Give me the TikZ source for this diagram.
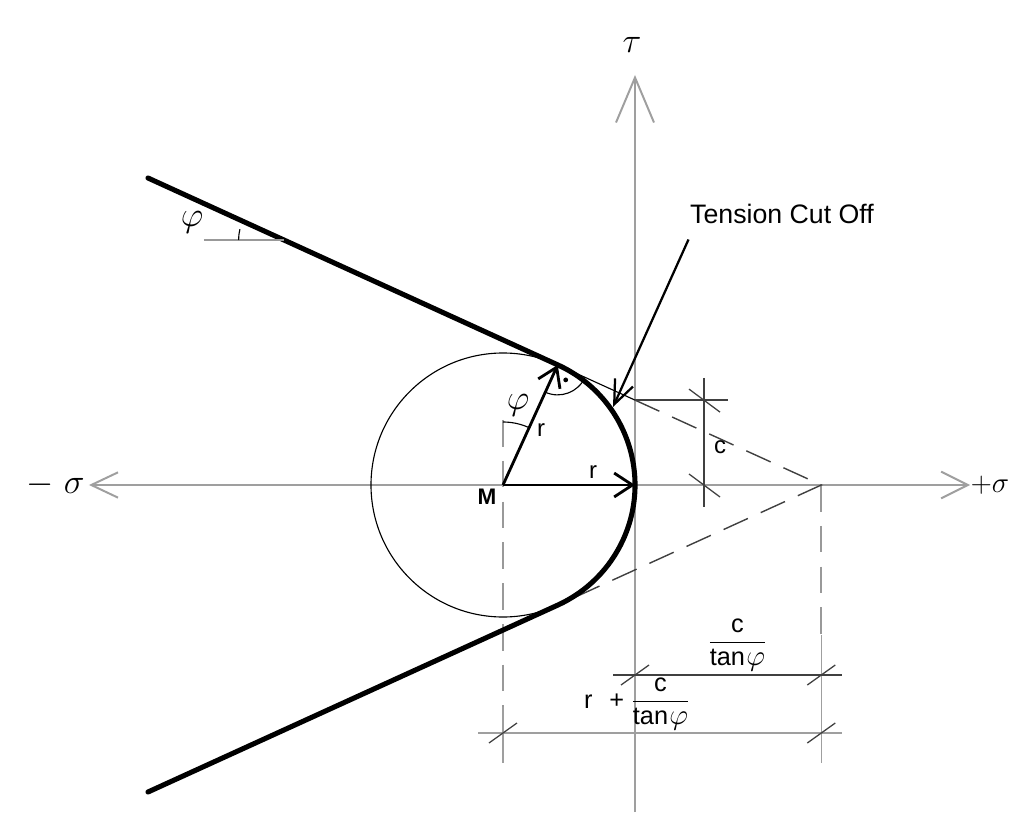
\documentclass[tikz,border=0pt]{standalone}
\usepackage{amsmath}
\usepackage{fontspec}
\setmainfont{Liberation Sans}
\usepackage{tikz}
\usetikzlibrary{arrows.meta, calc, positioning}

\def\phideg{24.5}

\begin{document}
\begin{tikzpicture}[x=0.25mm, y=0.25mm,
          axis/.style={gray!75, line width=1.4pt},
          env/.style={line width=3.6pt, line join=round, line cap=round},
          rad/.style={line width=2pt,
                      -{Straight Barb[length=13pt, width=17pt, line width=2pt]}},
          dim/.style={line width=0.9pt, black!75},
          dimg/.style={line width=1.1pt, gray!75},
          aux/.style={line width=1pt, dash pattern=on 19pt off 10pt},
          thin/.style={line width=0.8pt},
          lab/.style={font=\fontsize{17}{20}\selectfont, inner sep=1pt},
          fr/.style={font=\fontsize{18}{22}\selectfont, inner sep=0pt, anchor=base},
          greek/.style={font=\fontsize{23}{27}\selectfont, inner sep=1pt}
        ]
        \useasboundingbox (-503,-327) rectangle (513,485);

        % Key points
        \coordinate (M) at (0,0);
        \coordinate (R) at (132,0);
        \coordinate (T1) at (90-\phideg:132);
        \coordinate (T2) at (\phideg-90:132);
        \coordinate (A) at (318.3,0);
        \coordinate (P) at (132,84.9);
        \coordinate (L1) at (-355,307);
        \coordinate (L2) at (-355,-307);
        \coordinate (sL) at (-414,0);
        \coordinate (sR) at (467,0);
        \coordinate (tT) at (132,410);

        % Axes
        \draw[axis, {Straight Barb[length=19pt, width=18pt]}-{Straight Barb[length=19pt, width=19pt]}]
              (sL)--(sR);
        \draw[axis, -{Straight Barb[length=32pt, width=27pt]}] (132,-327)--(tT);
        \node[greek, left=2pt of sL] (msig) {$-\;\sigma$};
        \node[greek, font=\fontsize{21}{25}\selectfont, inner sep=0.5pt,
              right=0pt of sR] (psig) {$+\sigma$};
        \node[greek] (tau) at (129,440) {$\tau$};

        % Dashed guide lines
        \draw[aux, gray!80, line width=1.2pt] (0,65)--(0,-222);
        \draw[dimg] (0,-222)--(0,-278);
        \draw[aux, gray!80, line width=1.2pt] (A)--(318.3,-150);
        \draw[dimg] (318.3,-150)--(318.3,-278);
        \draw[thin] (T1)--(P);
        \draw[aux, black!75] (P)--(A)--(T2);

        % Mohr circle and envelope
        \draw[thin] (M) circle[radius=132];
        \draw[env] (L1)--(T1) arc[start angle=90-\phideg, end angle=\phideg-90, radius=132]
              --(L2);
        \draw[rad] (M)--(T1);
        \draw[rad] (M)--(R);

        % Angles
        \draw[thin] (0,63) arc[start angle=90, end angle=90-\phideg, radius=63];
        \node[greek] (phiM) at (15,80) {$\varphi$};
        \draw[thin] (T1) ++(245.5:30) arc[start angle=245.5, end angle=335.5, radius=30];
        \fill (T1) ++(298:17) circle[radius=2.4];
        \draw[gray!80, line width=1.2pt] (-299,245)--(-219.4,245);
        \draw[thin] (-264.4,245) arc[start angle=180, end angle=166, radius=45];
        \node[greek] (phiL) at (-311,263) {$\varphi$};

        % Labels
        \node[lab] (r1) at (38,55) {r};
        \node[lab] (r2) at (90,13) {r};
        \node[lab, font=\fontsize{16}{19}\selectfont\bfseries] (ml) at (-16,-12) {M};

        % Tension cut off
        \node[lab, font=\fontsize{19}{22}\selectfont] (tco) at (279,271) {Tension Cut Off};
        \coordinate (cut) at (110,78);
        \draw[line width=1.6pt, -{Straight Barb[length=17pt, width=14pt, line width=1.6pt]}]
              ($(tco.south west)+(0,-14)$)--(cut);

        % Dimension c
        \draw[dim] (201,107)--(201,-22);
        \draw[dim] (P)--(225,84.9);
        \foreach \p in {(201,84.9),(201,0)} {
          \draw[dim] \p ++(-15,11)--++(31,-23);
        }
        \node[lab] (lc) at (217,38) {c};

        % Dimension c/tan phi
        \draw[dim] (110,-190)--(339,-190);
        \draw[dimg] (-25,-248)--(339,-248);
        \foreach \p in {(132,-190),(318.3,-190),(0,-248),(318.3,-248)} {
          \draw[dim] \p ++(-14,-10)--++(28,20);
        }
        \node[fr] (f1) at (234.5,-164) {$\dfrac{\text{c}}{\text{tan}\hspace{1pt}\text{\fontsize{21}{24}\selectfont$\varphi$}}$};
        \node[fr] (f2) at (134,-223)
              {r\hspace{12pt}+\hspace{5pt}$\dfrac{\text{c}}{\text{tan}\hspace{1pt}\text{\fontsize{21}{24}\selectfont$\varphi$}}$};
      \end{tikzpicture}
\end{document}
